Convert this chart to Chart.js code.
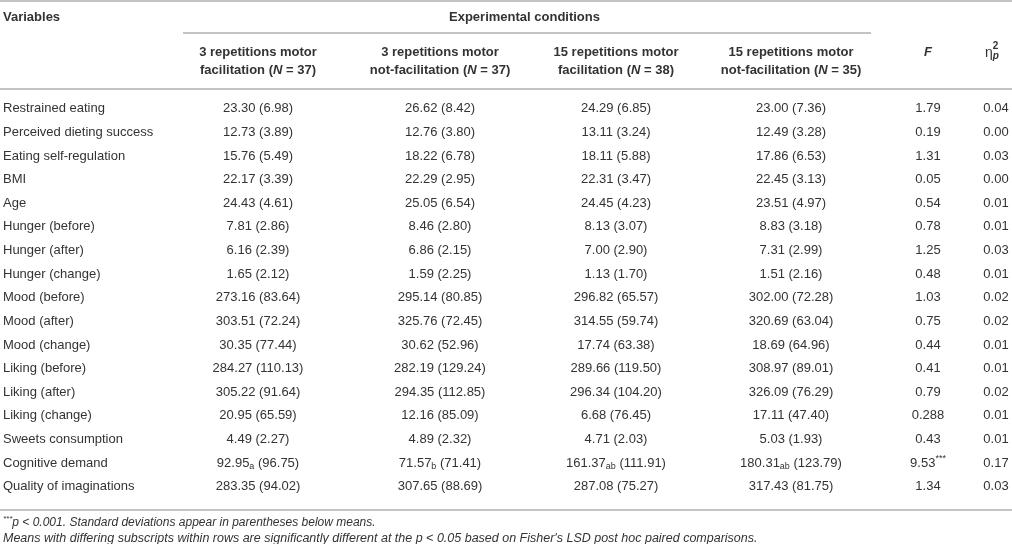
<!DOCTYPE html>
<html>
<head>
<meta charset="utf-8">
<script src="https://cdn.jsdelivr.net/npm/chart.js@4"></script>
<style>
  html, body { margin: 0; padding: 0; background: #fff; }
  canvas { display: block; }
</style>
</head>
<body>
<canvas id="myChart" width="1012" height="544"></canvas>
<script>
// table data
const variables = [
  "Restrained eating", "Perceived dieting success", "Eating self-regulation", "BMI", "Age",
  "Hunger (before)", "Hunger (after)", "Hunger (change)", "Mood (before)", "Mood (after)",
  "Mood (change)", "Liking (before)", "Liking (after)", "Liking (change)",
  "Sweets consumption", "Cognitive demand", "Quality of imaginations"
];
const conditionTitles = [
  ["3 repetitions motor", "facilitation"],
  ["3 repetitions motor", "not-facilitation"],
  ["15 repetitions motor", "facilitation"],
  ["15 repetitions motor", "not-facilitation"]
];
const conditionN = [37, 37, 38, 35];

const mean3Fac = [23.30, 12.73, 15.76, 22.17, 24.43, 7.81, 6.16, 1.65, 273.16, 303.51, 30.35, 284.27, 305.22, 20.95, 4.49, 92.95, 283.35];
const sd3Fac = [6.98, 3.89, 5.49, 3.39, 4.61, 2.86, 2.39, 2.12, 83.64, 72.24, 77.44, 110.13, 91.64, 65.59, 2.27, 96.75, 94.02];
const mean3Not = [26.62, 12.76, 18.22, 22.29, 25.05, 8.46, 6.86, 1.59, 295.14, 325.76, 30.62, 282.19, 294.35, 12.16, 4.89, 71.57, 307.65];
const sd3Not = [8.42, 3.80, 6.78, 2.95, 6.54, 2.80, 2.15, 2.25, 80.85, 72.45, 52.96, 129.24, 112.85, 85.09, 2.32, 71.41, 88.69];
const mean15Fac = [24.29, 13.11, 18.11, 22.31, 24.45, 8.13, 7.00, 1.13, 296.82, 314.55, 17.74, 289.66, 296.34, 6.68, 4.71, 161.37, 287.08];
const sd15Fac = [6.85, 3.24, 5.88, 3.47, 4.23, 3.07, 2.90, 1.70, 65.57, 59.74, 63.38, 119.50, 104.20, 76.45, 2.03, 111.91, 75.27];
const mean15Not = [23.00, 12.49, 17.86, 22.45, 23.51, 8.83, 7.31, 1.51, 302.00, 320.69, 18.69, 308.97, 326.09, 17.11, 5.03, 180.31, 317.43];
const sd15Not = [7.36, 3.28, 6.53, 3.13, 4.97, 3.18, 2.99, 2.16, 72.28, 63.04, 64.96, 89.01, 76.29, 47.40, 1.93, 123.79, 81.75];
const fValues = [1.79, 0.19, 1.31, 0.05, 0.54, 0.78, 1.25, 0.48, 1.03, 0.75, 0.44, 0.41, 0.79, 0.288, 0.43, 9.53, 1.34];
const etaValues = [0.04, 0.00, 0.03, 0.00, 0.01, 0.01, 0.03, 0.01, 0.02, 0.02, 0.01, 0.01, 0.02, 0.01, 0.01, 0.17, 0.03];

// subscripts only on the cognitive demand row
const subscriptRow = 15;
const cogSubscripts = ["a", "b", "ab", "ab"];
const fStars = { 15: "***" };

const footnotes = [
  ["***", "p < 0.001. Standard deviations appear in parentheses below means."],
  ["", "Means with differing subscripts within rows are significantly different at the p < 0.05 based on Fisher's LSD post hoc paired comparisons."]
];

// layout (pixel x of each column centre on the x scale)
const LABEL_X = 3;
const COL_X = [258, 440, 616, 791, 928, 996];
const FONT = '"Liberation Sans", Arial, sans-serif';
const TEXT = "#333";
const RULE = "#b0b0b0";

const fmt = (v) => (Math.round(v * 100) / 100 === v ? v.toFixed(2) : String(v));

const means = [mean3Fac, mean3Not, mean15Fac, mean15Not];
const sds = [sd3Fac, sd3Not, sd15Fac, sd15Not];

const reg = (size) => size + "px " + FONT;
const bold = (size) => "bold " + size + "px " + FONT;
const italic = (size) => "italic " + size + "px " + FONT;
const boldItalic = (size) => "italic bold " + size + "px " + FONT;

// build rich-text cells: each cell is a list of segments
function condCell(c, i) {
  const segs = [{ t: means[c][i].toFixed(2), f: reg(13) }];
  if (i === subscriptRow) segs.push({ t: cogSubscripts[c], f: reg(9), dy: 4 });
  segs.push({ t: " (" + sds[c][i].toFixed(2) + ")", f: reg(13) });
  return segs;
}

const columns = [0, 1, 2, 3].map((c) => variables.map((_, i) => condCell(c, i)));
columns.push(fValues.map((v, i) => {
  const segs = [{ t: fmt(v), f: reg(13) }];
  if (fStars[i]) segs.push({ t: fStars[i], f: reg(9), dy: -4 });
  return segs;
}));
columns.push(etaValues.map((v) => [{ t: v.toFixed(2), f: reg(13) }]));

function drawRich(ctx, segs, x, y, align) {
  let w = 0;
  segs.forEach((s) => { ctx.font = s.f; s.w = ctx.measureText(s.t).width; w += s.w; });
  let cx = align === "center" ? x - w / 2 : x;
  ctx.textAlign = "left";
  ctx.textBaseline = "middle";
  segs.forEach((s) => {
    ctx.font = s.f;
    ctx.fillText(s.t, cx, y + (s.dy || 0));
    cx += s.w;
  });
}

const tablePlugin = {
  id: "tableText",
  afterDatasetsDraw(chart) {
    const ctx = chart.ctx;
    const xs = chart.scales.x;
    const ys = chart.scales.y;
    ctx.save();
    ctx.fillStyle = TEXT;

    // rules
    ctx.strokeStyle = RULE;
    ctx.lineWidth = 1.5;
    const rule = (x1, x2, y) => { ctx.beginPath(); ctx.moveTo(x1, y); ctx.lineTo(x2, y); ctx.stroke(); };
    rule(0, chart.width, 1);
    rule(xs.getPixelForValue(183), xs.getPixelForValue(871), 33);
    rule(0, chart.width, 89);
    rule(0, chart.width, 510);

    // header
    drawRich(ctx, [{ t: "Variables", f: bold(13) }], xs.getPixelForValue(LABEL_X), 17, "left");
    drawRich(ctx, [{ t: "Experimental conditions", f: bold(13) }],
      (xs.getPixelForValue(COL_X[0]) + xs.getPixelForValue(COL_X[3])) / 2, 17, "center");
    conditionTitles.forEach((title, c) => {
      const x = xs.getPixelForValue(COL_X[c]);
      drawRich(ctx, [{ t: title[0], f: bold(13) }], x, 52, "center");
      drawRich(ctx, [
        { t: title[1] + " (", f: bold(13) },
        { t: "N", f: boldItalic(13) },
        { t: " = " + conditionN[c] + ")", f: bold(13) }
      ], x, 70, "center");
    });
    drawRich(ctx, [{ t: "F", f: boldItalic(13) }], xs.getPixelForValue(COL_X[4]), 52, "center");
    const ex = xs.getPixelForValue(COL_X[5]) - 11;
    ctx.font = reg(14);
    ctx.textBaseline = "middle";
    ctx.fillText("\u03b7", ex, 53);
    const ew = ctx.measureText("\u03b7").width;
    ctx.font = bold(10);
    ctx.fillText("2", ex + ew, 46);
    ctx.font = boldItalic(10);
    ctx.fillText("p", ex + ew, 56);

    // row labels
    variables.forEach((v, i) => {
      drawRich(ctx, [{ t: v, f: reg(13) }], xs.getPixelForValue(LABEL_X), ys.getPixelForValue(i), "left");
    });

    // cells, placed at the dataset elements
    chart.data.datasets.forEach((ds, d) => {
      chart.getDatasetMeta(d).data.forEach((pt, i) => {
        drawRich(ctx, ds.cells[i], pt.x, pt.y, "center");
      });
    });

    // footnotes
    footnotes.forEach((fn, k) => {
      const y = 523 + k * 16;
      const segs = [];
      if (fn[0]) segs.push({ t: fn[0], f: italic(8), dy: -4 });
      segs.push({ t: fn[1], f: italic(k === 0 ? 12 : 12.5) });
      drawRich(ctx, segs, xs.getPixelForValue(LABEL_X), y, "left");
    });
    ctx.restore();
  }
};

const datasets = columns.map((cells, c) => ({
  label: "col" + c,
  data: variables.map((_, i) => ({ x: COL_X[c], y: i })),
  cells: cells,
  pointRadius: 0,
  pointHoverRadius: 0,
  showLine: false
}));

const ctx = document.getElementById("myChart").getContext("2d");
new Chart(ctx, {
  type: "scatter",
  data: { datasets: datasets },
  options: {
    responsive: false,
    animation: false,
    devicePixelRatio: 1,
    events: [],
    layout: { padding: { top: 97, bottom: 45.6, left: 0, right: 0 } },
    plugins: { legend: { display: false }, tooltip: { enabled: false } },
    scales: {
      x: { type: "linear", min: 0, max: 1012, display: false },
      y: { type: "linear", min: -0.5, max: 16.5, reverse: true, display: false }
    }
  },
  plugins: [tablePlugin]
});
</script>
</body>
</html>
